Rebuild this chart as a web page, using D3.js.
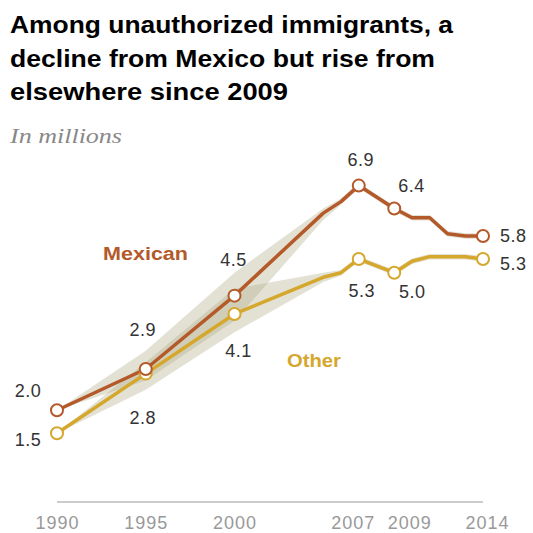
<!DOCTYPE html>
<html>
<head>
<meta charset="utf-8">
<script src="https://cdn.jsdelivr.net/npm/d3@7"></script>
<style>
  body { margin: 0; background: #fff; }
  svg { display: block; font-family: "Liberation Sans", Arial, sans-serif; }
</style>
</head>
<body>
<div id="chart"></div>
<script>
const years = [1990, 1995, 2000, 2005, 2006, 2007, 2008, 2009, 2010, 2011, 2012, 2013, 2014];
const mexican = [2.0, 2.9, 4.5, 6.3, 6.55, 6.9, 6.65, 6.4, 6.2, 6.2, 5.85, 5.8, 5.8];
const other   = [1.5, 2.8, 4.1, 4.9, 5.0, 5.3, 5.15, 5.0, 5.25, 5.35, 5.35, 5.35, 5.3];
// uncertainty ranges (shaded bands)
const mexLo = [2.0, 2.65, 3.95, 6.15, 6.48, 6.84, 6.59, 6.34, 6.14, 6.14, 5.79, 5.74, 5.74];
const mexHi = [2.0, 3.3, 5.0, 6.4, 6.62, 6.96, 6.71, 6.46, 6.26, 6.26, 5.91, 5.86, 5.86];
const othLo = [1.5, 2.45, 3.7, 4.8, 4.94, 5.24, 5.09, 4.94, 5.19, 5.29, 5.29, 5.29, 5.24];
const othHi = [1.5, 3.05, 4.65, 5.0, 5.06, 5.36, 5.21, 5.06, 5.31, 5.41, 5.41, 5.41, 5.36];

const markerYears = [1990, 1995, 2000, 2007, 2009, 2014];
const tickYears = [1990, 1995, 2000, 2007, 2009, 2014];

const width = 533, height = 533;
const margin = { left: 57, right: 50, top: 181, bottom: 31 };

const colMex = "#b4592a";
const colOth = "#d5a72c";

const svg = d3.select("#chart").append("svg")
  .attr("width", width)
  .attr("height", height);

const x = d3.scaleLinear().domain([1990, 2014]).range([margin.left, width - margin.right]);
const y = d3.scaleLinear().domain([0, 7]).range([height - margin.bottom, margin.top]);

// title
const title = ["Among unauthorized immigrants, a", "decline from Mexico but rise from", "elsewhere since 2009"];
const titleW = [443, 425, 278];
svg.append("g").selectAll("text").data(title).join("text")
  .attr("x", 10)
  .attr("y", (d, i) => 33 + i * 33.5)
  .attr("font-size", 23)
  .attr("font-weight", "bold")
  .attr("fill", "#000")
  .attr("textLength", (d, i) => titleW[i])
  .attr("lengthAdjust", "spacingAndGlyphs")
  .text(d => d);

svg.append("text")
  .attr("x", 10).attr("y", 143)
  .attr("font-family", "'Liberation Serif', 'DejaVu Serif', serif")
  .attr("font-style", "italic")
  .attr("font-size", 20)
  .attr("fill", "#888")
  .attr("textLength", 112)
  .attr("lengthAdjust", "spacingAndGlyphs")
  .text("In millions");

// axis baseline
svg.append("line")
  .attr("x1", x(1990)).attr("x2", x(2014))
  .attr("y1", y(0)).attr("y2", y(0))
  .attr("stroke", "#ccc").attr("stroke-width", 2);

// tick labels nudged sideways where 2007 and 2009 crowd each other
const tickShift = { 1990: 0, 1995: 0, 2000: 0, 2007: -6, 2009: 15, 2014: 4 };
const xAxis = svg.append("g")
  .attr("transform", `translate(0,${y(0)})`)
  .call(d3.axisBottom(x).tickValues(tickYears).tickFormat(d3.format("d")).tickSize(0).tickPadding(14));
xAxis.select(".domain").remove();
xAxis.selectAll("text")
  .attr("font-size", 18)
  .attr("letter-spacing", 1)
  .attr("dx", d => tickShift[d])
  .attr("font-family", "'Liberation Sans', Arial, sans-serif")
  .attr("fill", "#999");

// bands
const idx = d3.range(years.length);
const band = (lo, hi) => d3.area()
  .x(i => x(years[i]))
  .y0(i => y(lo[i]))
  .y1(i => y(hi[i]))(idx);

svg.append("path").attr("d", band(mexLo, mexHi))
  .attr("fill", "#b3af8c").attr("fill-opacity", 0.38);
svg.append("path").attr("d", band(othLo, othHi))
  .attr("fill", "#b3af8c").attr("fill-opacity", 0.38);

// lines
const line = vals => d3.line()
  .x(i => x(years[i]))
  .y(i => y(vals[i]))(idx);

svg.append("path").attr("d", line(mexican))
  .attr("fill", "none").attr("stroke", colMex).attr("stroke-width", 3.5)
  .attr("stroke-linejoin", "round");
svg.append("path").attr("d", line(other))
  .attr("fill", "none").attr("stroke", colOth).attr("stroke-width", 3.5)
  .attr("stroke-linejoin", "round");

// markers
const markIdx = idx.filter(i => markerYears.includes(years[i]));
svg.append("g").selectAll("circle").data(markIdx).join("circle")
  .attr("cx", i => x(years[i])).attr("cy", i => y(other[i])).attr("r", 6)
  .attr("fill", "#fff").attr("stroke", colOth).attr("stroke-width", 2);
svg.append("g").selectAll("circle").data(markIdx).join("circle")
  .attr("cx", i => x(years[i])).attr("cy", i => y(mexican[i])).attr("r", 6)
  .attr("fill", "#fff").attr("stroke", colMex).attr("stroke-width", 2);

// value labels: [year, dx, dy, anchor]
const fmt = d3.format(".1f");
const mexLabels = [
  [1990, -29, -13, "middle"],
  [1995, -3, -33, "middle"],
  [2000, -1, -30, "middle"],
  [2007, 2, -20, "middle"],
  [2009, 4, -17, "start"],
  [2014, 17, 6, "start"]
];
const othLabels = [
  [1990, -29, 13, "middle"],
  [1995, -3, 50, "middle"],
  [2000, 4, 43, "middle"],
  [2007, 3, 38, "middle"],
  [2009, 18, 25, "middle"],
  [2014, 17, 11, "start"]
];
function addLabels(spec, vals) {
  svg.append("g").selectAll("text").data(spec).join("text")
    .attr("x", d => x(d[0]) + d[1])
    .attr("y", d => y(vals[years.indexOf(d[0])]) + d[2])
    .attr("text-anchor", d => d[3])
    .attr("font-size", 18)
    .attr("letter-spacing", 0.5)
    .attr("fill", "#333")
    .text(d => fmt(vals[years.indexOf(d[0])]));
}
addLabels(mexLabels, mexican);
addLabels(othLabels, other);

// series names
svg.append("text").attr("x", 103).attr("y", 260)
  .attr("font-size", 18).attr("font-weight", "bold").attr("fill", colMex)
  .attr("textLength", 85).attr("lengthAdjust", "spacingAndGlyphs")
  .text("Mexican");
svg.append("text").attr("x", 287).attr("y", 367)
  .attr("font-size", 18).attr("font-weight", "bold").attr("fill", colOth)
  .attr("textLength", 54).attr("lengthAdjust", "spacingAndGlyphs")
  .text("Other");
</script>
</body>
</html>
